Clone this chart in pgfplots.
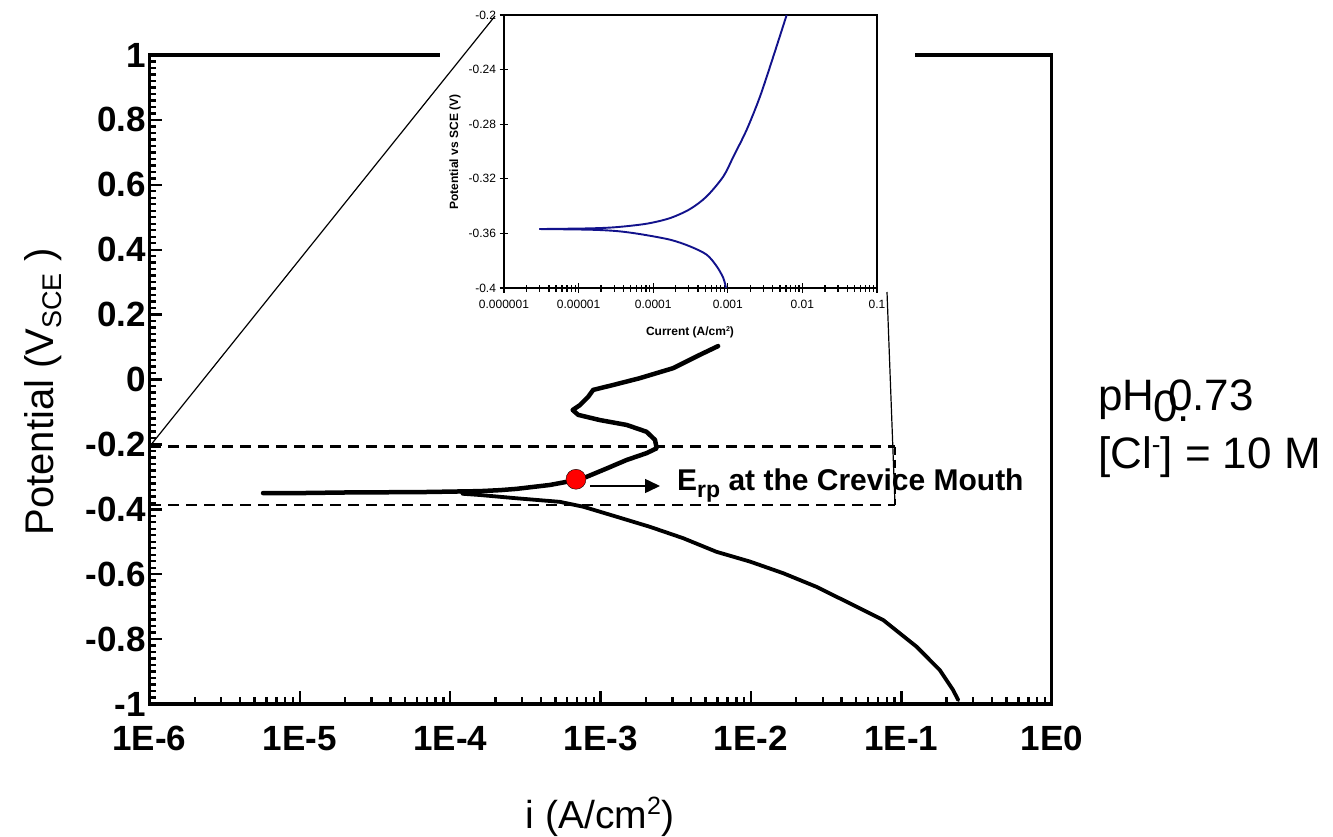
\documentclass[border=0pt]{standalone}
\usepackage{pgfplots}
\pgfplotsset{compat=1.18}
\usepackage{fontspec}
\setmainfont{Liberation Sans}
\usetikzlibrary{arrows.meta}
\definecolor{insetblue}{RGB}{18,18,140}
\begin{document}
\begin{tikzpicture}
\path[use as bounding box] (0pt,0pt) rectangle (1333pt,-837pt);
% ---------------- main axis ----------------
\begin{axis}[
  at={(149.5pt,-704pt)}, anchor=south west,
  scale only axis, width=902.2pt, height=649pt,
  xmode=log, xmin=1e-6, xmax=1, ymin=-1, ymax=1,
  clip=false,
  axis line style={line width=3.3pt},
  tick pos=left, tick align=inside,
  tick style={line width=2.4pt, black},
  major tick length=13pt, minor tick length=7pt,
  xtick={1e-6,1e-5,1e-4,1e-3,1e-2,1e-1,1},
  xticklabels={1E-6,1E-5,1E-4,1E-3,1E-2,1E-1,1E0},
  minor xtick={2e-6,3e-6,4e-6,5e-6,6e-6,7e-6,8e-6,9e-6,
               2e-5,3e-5,4e-5,5e-5,6e-5,7e-5,8e-5,9e-5,
               2e-4,3e-4,4e-4,5e-4,6e-4,7e-4,8e-4,9e-4,
               2e-3,3e-3,4e-3,5e-3,6e-3,7e-3,8e-3,9e-3,
               2e-2,3e-2,4e-2,5e-2,6e-2,7e-2,8e-2,9e-2,
               0.2,0.3,0.4,0.5,0.6,0.7,0.8,0.9},
  ytick={-1,-0.8,-0.6,-0.4,-0.2,0,0.2,0.4,0.6,0.8,1},
  yticklabels={-1,-0.8,-0.6,-0.4,-0.2,0,0.2,0.4,0.6,0.8,1},
  minor y tick num=9,
  tick label style={font=\fontsize{35}{40}\selectfont\bfseries},
  xticklabel style={yshift=-19pt},
]
% upper (anodic) branch incl. flat part near Ecorr
\addplot[black, line width=4.5pt, line join=round, line cap=round] coordinates {
 (5.69e-6,-0.350) (1.00e-5,-0.350) (2.15e-5,-0.348) (6.30e-5,-0.347)
 (1.58e-4,-0.344) (2.14e-4,-0.341) (2.76e-4,-0.337) (4.60e-4,-0.325)
 (6.86e-4,-0.310) (8.07e-4,-0.300) (1.10e-3,-0.274) (1.49e-3,-0.248)
 (2.02e-3,-0.227) (2.36e-3,-0.212) (2.30e-3,-0.186) (2.02e-3,-0.161)
 (1.49e-3,-0.140) (9.89e-4,-0.125) (7.10e-4,-0.109) (6.52e-4,-0.094)
 (7.28e-4,-0.079) (8.28e-4,-0.053) (8.93e-4,-0.032) (1.21e-3,-0.017)
 (1.82e-3,0.004) (3.04e-3,0.035) (4.57e-3,0.076) (6.05e-3,0.103)
};
% lower (cathodic) branch
\addplot[black, line width=3.8pt, line join=round, line cap=round] coordinates {
 (1.20e-4,-0.352) (1.58e-4,-0.356) (2.76e-4,-0.366) (5.36e-4,-0.377) (7.66e-4,-0.392)
 (1.28e-3,-0.423) (2.13e-3,-0.454) (3.54e-3,-0.489) (5.90e-3,-0.531)
 (9.84e-3,-0.561) (1.64e-2,-0.597) (2.73e-2,-0.639) (4.55e-2,-0.690)
 (7.57e-2,-0.741) (0.126,-0.823) (0.180,-0.895) (0.221,-0.957) (0.239,-0.988)
};
% E_rp point
\addplot[only marks, mark=*, mark size=10pt, mark options={draw=none, fill=red}] coordinates {(6.86e-4,-0.3075)};
\end{axis}
% ---------------- annotations on main ----------------
\begin{scope}[x=1pt, y=-1pt]
\draw[line width=2.5pt, dash pattern=on 11pt off 7pt] (150,446.5) -- (895,446.5);
\draw[line width=2.5pt, dash pattern=on 11pt off 7pt] (150,505) -- (895,505);
\draw[line width=1.5pt, dash pattern=on 8pt off 5pt] (895,446.5) -- (895,505);
\draw[line width=1.5pt, -{Triangle[length=15pt,width=14pt]}] (590,486) -- (660,486);
\node[anchor=base west, inner sep=0pt, font=\fontsize{30}{36}\selectfont\bfseries] at (677,490)
  {E\raisebox{-7pt}{\fontsize{23}{26}\selectfont rp} at the Crevice Mouth};
% axis titles
\node[rotate=90, anchor=base, inner sep=0pt, font=\fontsize{40}{46}\selectfont] at (53,392)
  {Potential (V\raisebox{-8pt}{\fontsize{27}{30}\selectfont SCE} )};
\node[anchor=base, inner sep=0pt, font=\fontsize{39}{45}\selectfont] at (600,828)
  {i (A/cm\raisebox{14pt}{\fontsize{25}{28}\selectfont 2})};
% right-hand text
\node[anchor=base west, inner sep=0pt, font=\fontsize{44}{50}\selectfont] at (1098,410) {pH};
\node[anchor=base west, inner sep=0pt, font=\fontsize{44}{50}\selectfont] at (1153,421) {0.};
\node[anchor=base west, inner sep=0pt, font=\fontsize{44}{50}\selectfont] at (1168,410) {0.73};
\node[anchor=base west, inner sep=0pt, font=\fontsize{44}{50}\selectfont] at (1098,468)
  {[Cl\raisebox{15pt}{\fontsize{26}{30}\selectfont -}] = 10 M};
% white background of inset
\fill[white] (440,0) rectangle (915,339);
\end{scope}
% ---------------- inset ----------------
\begin{axis}[
  at={(504pt,-288pt)}, anchor=south west,
  scale only axis, width=373pt, height=273pt,
  xmode=log, xmin=1e-6, xmax=0.1, ymin=-0.4, ymax=-0.2,
  axis line style={line width=1.6pt},
  tick pos=left, tick align=center,
  tick style={line width=1.3pt, black},
  major tick length=9pt, minor tick length=7pt,
  xtick={1e-6,1e-5,1e-4,1e-3,1e-2,1e-1},
  xticklabels={0.000001,0.00001,0.0001,0.001,0.01,0.1},
  minor xtick={2e-6,3e-6,4e-6,5e-6,6e-6,7e-6,8e-6,9e-6,
               2e-5,3e-5,4e-5,5e-5,6e-5,7e-5,8e-5,9e-5,
               2e-4,3e-4,4e-4,5e-4,6e-4,7e-4,8e-4,9e-4,
               2e-3,3e-3,4e-3,5e-3,6e-3,7e-3,8e-3,9e-3,
               2e-2,3e-2,4e-2,5e-2,6e-2,7e-2,8e-2,9e-2},
  ytick={-0.4,-0.36,-0.32,-0.28,-0.24,-0.2},
  yticklabels={-0.4,-0.36,-0.32,-0.28,-0.24,-0.2},
  tick label style={font=\fontsize{12}{14}\selectfont},
  xticklabel style={yshift=-4pt},
]
\addplot[insetblue, line width=1.9pt, smooth, tension=0.5] coordinates {
 (2.98e-6,-0.3568) (1.42e-5,-0.3563) (3.24e-5,-0.3554) (8.17e-5,-0.3529)
 (1.68e-4,-0.3488) (3.11e-4,-0.3422) (5.21e-4,-0.3329) (8.71e-4,-0.3183)
 (1.19e-3,-0.3037) (1.79e-3,-0.2841) (2.70e-3,-0.2598) (4.07e-3,-0.2305) (6.15e-3,-0.2)
};
\addplot[insetblue, line width=1.9pt, smooth, tension=0.5] coordinates {
 (2.98e-6,-0.3568) (1.42e-5,-0.3573) (3.24e-5,-0.3583) (6.65e-5,-0.3605)
 (1.68e-4,-0.3646) (3.11e-4,-0.3695) (5.21e-4,-0.3756) (7.10e-4,-0.3841)
 (8.71e-4,-0.3927) (9.46e-4,-0.4)
};
\end{axis}
\begin{scope}[x=1pt, y=-1pt]
\node[rotate=90, anchor=center, inner sep=0pt, font=\fontsize{12}{14}\selectfont\bfseries] at (455,152)
  {Potential vs SCE (V)};
\node[anchor=center, inner sep=0pt, font=\fontsize{12}{14}\selectfont\bfseries] at (690,332)
  {Current (A/cm\raisebox{4pt}{\fontsize{7}{8}\selectfont 2})};
\draw[line width=1.2pt] (150,446) -- (495,16);
\draw[line width=1.2pt] (887,292) -- (895,505);
\end{scope}
\end{tikzpicture}
\end{document}
